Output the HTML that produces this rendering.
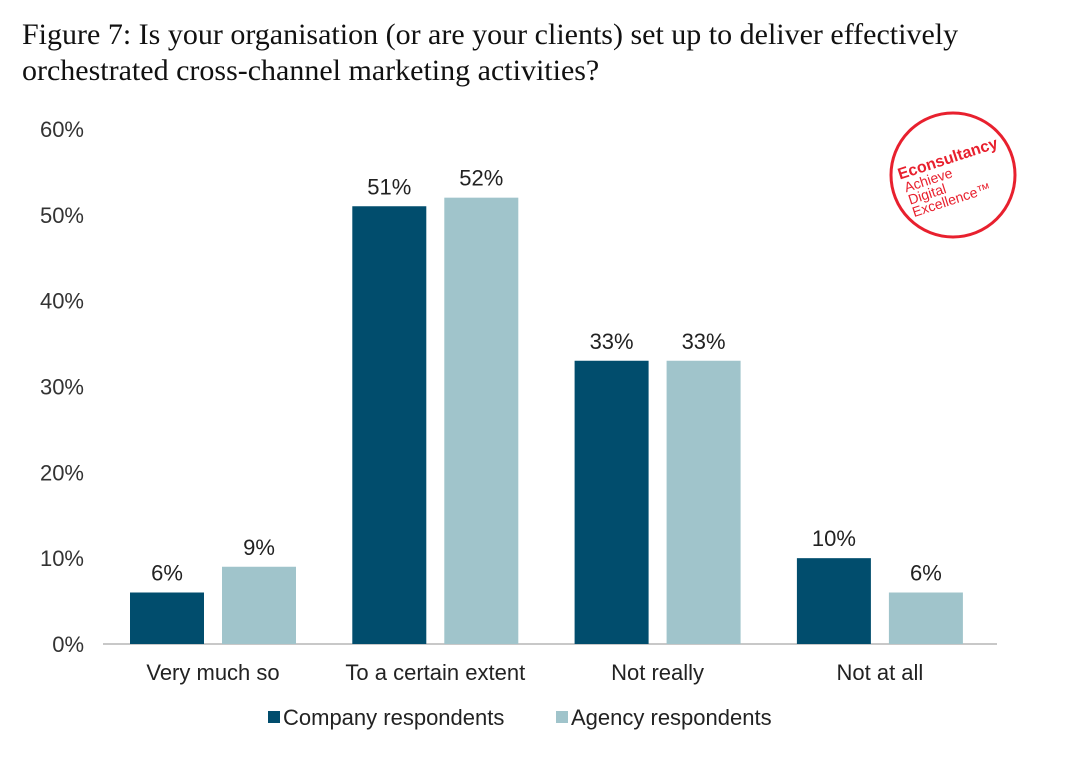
<!DOCTYPE html>
<html><head><meta charset="utf-8"><style>
body{margin:0;background:#fff;width:1076px;height:775px;overflow:hidden;font-family:"Liberation Sans",sans-serif}
.title{position:absolute;left:22px;top:17px;font-family:"Liberation Serif",serif;font-size:30px;line-height:36px;color:#111}
</style></head><body>
<div class="title">Figure 7: Is your organisation (or are your clients) set up to deliver effectively<br>orchestrated cross-channel marketing activities?</div>
<svg id="c" width="1076" height="775" style="position:absolute;left:0;top:0">
<g transform="translate(953,175) rotate(-18)">
<circle cx="0" cy="0" r="62" fill="none" stroke="#e8202e" stroke-width="3" transform="rotate(18)"/>
<text x="-52" y="-12" font-size="16" font-weight="bold" fill="#e8202e">Econsultancy</text>
<text x="-50" y="2" font-size="14" fill="#e8202e">Achieve</text>
<text x="-50" y="15" font-size="14" fill="#e8202e">Digital</text>
<text x="-50" y="28" font-size="14" fill="#e8202e">Excellence™</text>
</g>
</svg>
<script>
const categories=["Very much so","To a certain extent","Not really","Not at all"];
const company=[6,51,33,10];
const agency=[9,52,33,6];
const ticks=[0,10,20,30,40,50,60];
const ns="http://www.w3.org/2000/svg",svg=document.getElementById('c');
const x0=103,x1=997,y0=644,yTop=129,cw=222.3;
const y=v=>y0-(v/60)*(y0-yTop);
function el(t,a,txt){const e=document.createElementNS(ns,t);for(const k in a)e.setAttribute(k,a[k]);if(txt!=null)e.textContent=txt;svg.appendChild(e);return e;}
ticks.forEach(t=>{const e=el('text',{x:84,y:y(t)+8,'text-anchor':'end','font-size':22,fill:'#333'},t+'%');

});
const ax=el('line',{x1:x0,x2:x1,y1:y0,y2:y0,stroke:'#c8c8c8','stroke-width':2});


const series=[[company,'#014d6d','company'],[agency,'#a0c4cb','agency']];
categories.forEach((c,i)=>{
 const cx=x0+cw*i;
 series.forEach(([vals,col,nm],j)=>{
  const bx=cx+27+j*92,v=vals[i];
  const r=el('rect',{x:bx,y:y(v),width:74,height:y0-y(v),fill:col});
  
  
  const l=el('text',{x:bx+37,y:y(v)-12,'text-anchor':'middle','font-size':22,fill:'#222'},v+'%');
  
  
 });
 const t=el('text',{x:cx+27+83,y:680,'text-anchor':'middle','font-size':22,fill:'#222'},c);
 
 
});
[['Company respondents','#014d6d',268],['Agency respondents','#a0c4cb',556]].forEach(([n,col,lx],k)=>{
 const s=el('rect',{x:lx,y:711,width:12,height:12,fill:col});
 
 
 const t=el('text',{x:lx+15,y:725,'font-size':22,fill:'#222'},n);
 
 
});
</script>
</body></html>
